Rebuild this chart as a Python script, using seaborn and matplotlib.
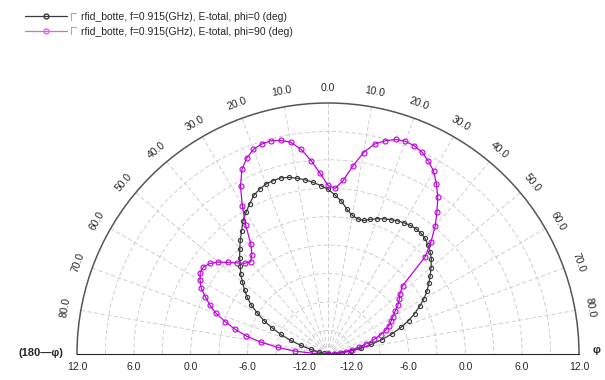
import numpy as np
import pandas as pd
import matplotlib
matplotlib.use("Agg")
import matplotlib.pyplot as plt
import matplotlib.transforms as mtransforms
from matplotlib.lines import Line2D
import seaborn as sns

# Elevation angle (deg), 2.5 deg sampling from -90 to 90
theta_deg = np.arange(-90, 90.01, 2.5)

# E-total (dB) for the phi=0 cut
etotal_phi0 = [
    -14.5, -14.5, -14.5, -14.4, -14.1, -13.5, -12.6, -11.5, -10.3, -9.1,
    -8.0, -6.9, -5.9, -4.9, -4.1, -3.4, -2.7, -2.0, -1.4, -0.7,
    0.0, 0.7, 1.4, 2.2, 2.8, 3.4, 4.0, 4.35, 4.6, 4.7,
    4.75, 4.6, 4.35, 4.05, 3.7, 3.3, 2.9, 2.3, 1.7, 0.9,
    0.35, 0.1, 0.1, 0.4, 0.7, 0.95, 1.15, 1.35, 1.5, 1.62,
    1.65, 1.6, 1.45, 1.1, 0.75, 0.3, -0.3, -0.9, -1.5, -2.1,
    -2.8, -3.6, -4.4, -5.3, -6.3, -7.4, -8.6, -9.8, -11.0, -12.0,
    -13.0, -13.8, -14.5,
]

# E-total (dB) for the phi=90 cut
etotal_phi90 = [
    -14.5, -13.0, -11.0, -9.2, -7.3, -5.6, -4.3, -3.1, -1.9, -1.0,
    -0.2, 0.6, 1.1, 1.5, 1.55, 1.2, 0.6, -0.2, -0.9, -1.5,
    -1.8, -1.3, -0.3, 1.7, 3.6, 5.5, 7.0, 7.9, 8.5, 8.75,
    8.8, 8.6, 8.2, 7.3, 6.0, 4.6, 3.3, 3.0, 3.9, 5.5,
    7.1, 8.2, 8.8, 9.25, 9.4, 9.3, 9.0, 8.45, 7.8, 6.8,
    5.7, 4.4, 3.1, 1.6, 0.0, -3.8, -4.6, -5.0, -5.5, -6.1,
    -6.6, -7.0, -7.4, -7.9, -8.6, -9.4, -10.3, -11.1, -11.9, -12.6,
    -13.2, -13.9, -14.5,
]

series_labels = [
    "rfid_botte, f=0.915(GHz), E-total, phi=0 (deg)",
    "rfid_botte, f=0.915(GHz), E-total, phi=90 (deg)",
]
series_colors = ["#3a3a3a", "#c000e0"]

theta_ticks = list(range(-80, 81, 10))
theta_tick_labels = [f"{abs(t)}.0" for t in theta_ticks]
r_ticks = [-12, -6, 0, 6, 12]
r_tick_labels = ["-12.0", "-6.0", "0.0", "6.0", "12.0"]
r_min, r_max = -14.5, 12.0

df = pd.concat([
    pd.DataFrame({"theta": np.deg2rad(theta_deg), "dB": etotal_phi0, "cut": series_labels[0]}),
    pd.DataFrame({"theta": np.deg2rad(theta_deg), "dB": etotal_phi90, "cut": series_labels[1]}),
])

sns.set_style("white")
plt.rcParams["font.family"] = ["Liberation Sans", "DejaVu Sans"]

W, H = 605, 380
fig = plt.figure(figsize=(W / 100, H / 100), dpi=100)
# half-disc centre and radius in pixels; the polar box is square, the wedge sits mid-height
cx, cy, R = 328, 354, 251
box_top = cy - R / 2 - R
ax = fig.add_axes([(cx - R) / W, (H - (box_top + 2 * R)) / H, 2 * R / W, 2 * R / H],
                  projection="polar")
ax.set_theta_zero_location("N")
ax.set_theta_direction(-1)
ax.set_thetamin(-90)
ax.set_thetamax(90)
ax.set_ylim(r_min, r_max)

# grid: spokes every 10 deg, rings every 3 dB
ax.set_xticks(np.deg2rad(theta_ticks))
ax.set_xticklabels(theta_tick_labels)
ax.set_yticks(np.arange(-12, 12, 3))
ax.set_yticklabels([])
ax.grid(True, color="#c8c8c8", linestyle=(0, (5, 3)), linewidth=0.6)
ax.tick_params(axis="x", labelrotation="auto", pad=4, labelsize=7.5, length=0)
ax.tick_params(axis="y", length=0)
for name in ("start", "end", "inner"):
    if name in ax.spines:
        ax.spines[name].set_visible(False)
ax.spines["polar"].set_color("#555555")
ax.spines["polar"].set_linewidth(1.1)

for label, color, ms in zip(series_labels, series_colors, [3.0, 3.6]):
    sns.lineplot(data=df[df["cut"] == label], x="theta", y="dB", ax=ax, sort=False,
                 color=color, linewidth=0.9, marker="o", markersize=ms,
                 markerfacecolor="none", markeredgecolor=color, markeredgewidth=0.8,
                 estimator=None, legend=False)
ax.set_xlabel("")
ax.set_ylabel("")

# radial scale labels along the baseline on both sides
below = ax.transData + mtransforms.ScaledTranslation(0, -6 / 72, fig.dpi_scale_trans)
for r, lab in zip(r_ticks, r_tick_labels):
    for side in (-90, 90):
        ax.text(np.deg2rad(side), r, lab, ha="center", va="top", fontsize=7.5,
                transform=below, clip_on=False)

ax.text(np.deg2rad(-90), r_max, "(180\u2014\u03c6)", ha="right", va="center", fontsize=8,
        fontweight="bold",
        transform=ax.transData + mtransforms.ScaledTranslation(-10 / 72, 1 / 72, fig.dpi_scale_trans))
ax.text(np.deg2rad(90), r_max, "\u03c6", ha="left", va="center", fontsize=8, fontweight="bold",
        transform=ax.transData + mtransforms.ScaledTranslation(10 / 72, 3 / 72, fig.dpi_scale_trans))

# legend
handles = [Line2D([], [], color=c, linewidth=0.9, marker="o", markersize=3.5,
                  markerfacecolor="none", markeredgecolor=c) for c in series_colors]
handles[1].set_color("#e060ee")
handles[1].set_markeredgecolor("#e060ee")
fig.legend(handles, series_labels, loc="upper left", bbox_to_anchor=(25 / W, 1 - 12 / H),
           frameon=False, fontsize=7.5, handlelength=4.0, handletextpad=1.4,
           labelspacing=0.45, borderaxespad=0, borderpad=0)
for y in (13, 27):
    fig.add_artist(Line2D([71 / W, 71 / W], [1 - (y + 7) / H, 1 - y / H], color="#aaaaaa", lw=0.8))
    fig.add_artist(Line2D([71 / W, 76 / W], [1 - y / H, 1 - y / H], color="#aaaaaa", lw=0.8))

fig.savefig("out.png", dpi=100)
